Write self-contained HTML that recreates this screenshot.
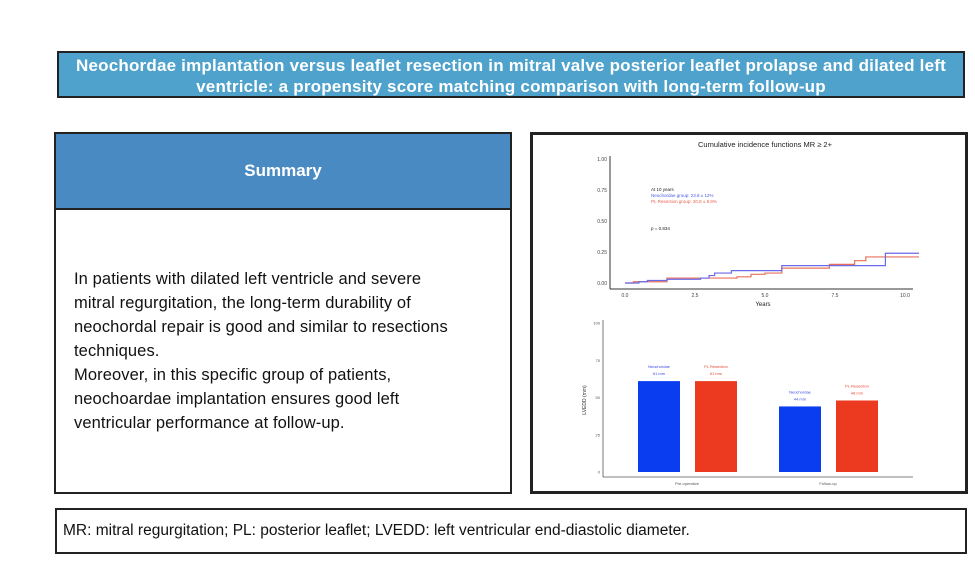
<!DOCTYPE html>
<html><head><meta charset="utf-8"><style>
body{margin:0;width:975px;height:566px;background:#fff;position:relative;overflow:hidden;font-family:"Liberation Sans",sans-serif}
.abs{position:absolute;box-sizing:border-box}
</style></head><body>
<div class="abs" style="left:57px;top:51px;width:908px;height:47px;background:#4ea2cb;border:2px solid #222;color:#fff;font-weight:bold;font-size:17px;letter-spacing:0.2px;text-align:center;line-height:21px;padding:2px 0 0;white-space:nowrap">Neochordae implantation versus leaflet resection in mitral valve posterior leaflet prolapse and dilated left<br>ventricle: a propensity score matching comparison with long-term follow-up</div>
<div class="abs" style="left:54px;top:132px;width:458px;height:362px;border:2px solid #222">
 <div class="abs" style="left:0;top:0;width:454px;height:76px;background:#4a8ac2;border-bottom:2px solid #222;color:#fff;font-weight:bold;font-size:17px;text-align:center;line-height:74px">Summary</div>
 <div class="abs" style="left:18px;top:133px;width:430px;font-size:16.5px;letter-spacing:0.1px;line-height:24px;color:#111;white-space:nowrap">In patients with dilated left ventricle and severe<br>mitral regurgitation, the long-term durability of<br>neochordal repair is good and similar to resections<br>techniques.<br>Moreover, in this specific group of patients,<br>neochoardae implantation ensures good left<br>ventricular performance at follow-up.</div>
</div>
<div class="abs" style="left:530px;top:132px;width:438px;height:362px;border:3px solid #222"></div>
<svg class="abs" style="left:0;top:0" width="975" height="566" font-family="Liberation Sans, sans-serif">
<g id="cif"></g><g id="bars"></g>
</svg>
<div class="abs" style="left:55px;top:508px;width:912px;height:46px;border:2px solid #222;font-size:15.5px;line-height:42px;padding-left:6px;color:#111">MR: mitral regurgitation; PL: posterior leaflet; LVEDD: left ventricular end-diastolic diameter.</div>
<script>
const yTicks=[0,0.25,0.5,0.75,1.0];
const yTickLabels=["0.00","0.25","0.50","0.75","1.00"];
const xTicks=[0,2.5,5,7.5,10];
const xTickLabels=["0.0","2.5","5.0","7.5","10.0"];
const neoTimes=[0,0.5,0.8,1.5,2.7,3.0,3.2,3.8,5.6,9.3,10.5];
const neoVals=[0,0.01,0.02,0.03,0.04,0.06,0.08,0.10,0.14,0.24,0.24];
const resTimes=[0,0.3,1.5,2.8,4.0,4.5,5.0,5.6,7.3,8.2,8.6,10.5];
const resVals=[0,0.01,0.04,0.04,0.05,0.07,0.08,0.12,0.15,0.18,0.21,0.21];
const barGroups=["Pre-operative","Follow-up"];
const neoBars=[61,44];
const resBars=[61,48];
const barTicks=[0,25,50,75,100];
const NS="http://www.w3.org/2000/svg";
function mk(p,t,a,txt){const e=document.createElementNS(NS,t);for(const k in a)e.setAttribute(k,a[k]);if(txt!==undefined)e.textContent=txt;p.appendChild(e);return e;}
const g=document.getElementById('cif');
const sx=v=>625+v*28, sy=v=>283-v*124;
let e=mk(g,'text',{x:765,y:147,'font-size':7.5,'text-anchor':'middle',fill:'#222'},'Cumulative incidence functions MR ≥ 2+');

e=mk(g,'line',{x1:610,y1:156,x2:610,y2:289,stroke:'#333','stroke-width':1});

e=mk(g,'line',{x1:610,y1:289,x2:913,y2:289,stroke:'#333','stroke-width':1});

yTicks.forEach((v,i)=>{e=mk(g,'text',{x:607,y:sy(v)+2,'font-size':5,'text-anchor':'end',fill:'#444'},yTickLabels[i]);
});
xTicks.forEach((v,i)=>{e=mk(g,'text',{x:sx(v),y:297,'font-size':5,'text-anchor':'middle',fill:'#444'},xTickLabels[i]);
});
e=mk(g,'text',{x:763,y:306,'font-size':6,'text-anchor':'middle',fill:'#222'},'Years');

function step(t,v){let d='M'+sx(t[0])+','+sy(v[0]);for(let i=1;i<t.length;i++){d+='H'+sx(t[i])+'V'+sy(v[i]);}return d;}
e=mk(g,'path',{d:step(resTimes,resVals),fill:'none',stroke:'#e8705a','stroke-width':1.2});

e=mk(g,'path',{d:step(neoTimes,neoVals),fill:'none',stroke:'#6a6ae8','stroke-width':1.2});

e=mk(g,'text',{x:651,y:191,'font-size':4.5,fill:'#222'},'At 10 years');

e=mk(g,'text',{x:651,y:197,'font-size':4.5,fill:'#4a5ae0'},'Neochordae group: 23.8 ± 12%');

e=mk(g,'text',{x:651,y:203,'font-size':4.5,fill:'#e8604a'},'PL Resection group: 20.8 ± 8.8%');

e=mk(g,'text',{x:651,y:230,'font-size':4.5,fill:'#222'},'p = 0.834');

const b=document.getElementById('bars');
const by=v=>472-v*1.49;
e=mk(b,'line',{x1:603,y1:320,x2:603,y2:477,stroke:'#555','stroke-width':0.8});

e=mk(b,'line',{x1:603,y1:477,x2:913,y2:477,stroke:'#555','stroke-width':0.8});

barTicks.forEach(v=>{e=mk(b,'text',{x:600,y:by(v)+1.5,'font-size':4,'text-anchor':'end',fill:'#555'},String(v));
});
e=mk(b,'text',{x:586,y:400,'font-size':5,'text-anchor':'middle',fill:'#333',transform:'rotate(-90 586 400)'},'LVEDD (mm)');

const gx=[638,779];
barGroups.forEach((gname,i)=>{
 const x0=gx[i];
 e=mk(b,'rect',{x:x0,y:by(neoBars[i]),width:42,height:by(0)-by(neoBars[i]),fill:'#0a3cf0'});
 
 e=mk(b,'rect',{x:x0+57,y:by(resBars[i]),width:42,height:by(0)-by(resBars[i]),fill:'#ec3a20'});
 
 e=mk(b,'text',{x:x0+21,y:by(neoBars[i])-13,'font-size':4,'text-anchor':'middle',fill:'#3a4ae8'},'Neochordae');
 
 e=mk(b,'text',{x:x0+21,y:by(neoBars[i])-6,'font-size':4,'text-anchor':'middle',fill:'#3a4ae8'},neoBars[i]+' mm');
 
 e=mk(b,'text',{x:x0+78,y:by(resBars[i])-13,'font-size':4,'text-anchor':'middle',fill:'#e84a30'},'PL Resection');
 
 e=mk(b,'text',{x:x0+78,y:by(resBars[i])-6,'font-size':4,'text-anchor':'middle',fill:'#e84a30'},resBars[i]+' mm');
 
 e=mk(b,'text',{x:x0+49,y:485,'font-size':4,'text-anchor':'middle',fill:'#555'},gname);
 
});
</script>
</body></html>
